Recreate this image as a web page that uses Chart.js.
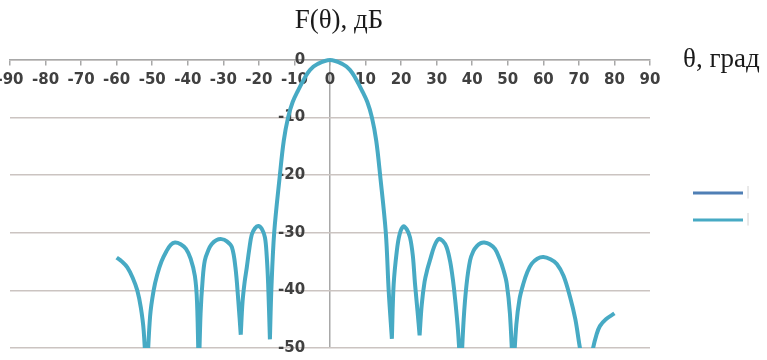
<!DOCTYPE html>
<html>
<head>
<meta charset="utf-8">
<title>F(θ), дБ</title>
<script src="https://cdn.jsdelivr.net/npm/chart.js@4"></script>
<style>
    body { margin: 0; background: #fff; }
    #wrap { width: 767px; height: 360px; position: relative; }
</style>
</head>
<body>
<div id="wrap"><canvas id="chartDiagrama"></canvas></div>
<script>
// угол, град
const angles = [
    -60, -58.5, -57, -55.5, -54.2, -53.2, -52.4, -51.6,
    -50.6, -49.6, -48.6, -47.4, -46.0, -44.8, -43.6, -42.0, -40.5, -39.2, -38.0, -37.4, -36.9,
    -36.4, -35.8, -35.2, -34.2, -33.3, -32.0, -30.5, -29.0, -27.6, -26.6, -25.8, -25.1,
    -24.6, -24.0, -23.4, -22.7, -22.0, -21.1, -20.2, -19.2, -18.3, -17.8, -17.4, -16.9,
    -16.5, -15.7, -14.1, -13.0, -11.8, -10.5, -9.0, -7.2, -5.6, -3.5, 0,
    3.5, 5.6, 7.2, 9.0, 10.5, 11.8, 13.0, 14.1, 15.7, 16.5, 17.4,
    17.9, 18.8, 19.6, 20.6, 21.6, 22.5, 23.3, 23.9, 24.6, 25.2,
    25.8, 26.6, 27.4, 28.1, 29.3, 30.5, 31.7, 32.8, 33.8, 34.6, 35.2, 36.0, 36.8,
    37.6, 38.4, 39.4, 40.3, 41.3, 42.4, 43.4, 44.9, 46.4, 47.7, 48.8, 49.7, 50.6, 51.5,
    52.4, 53.3, 54.4, 55.5, 56.7, 58.3, 60.0, 62.0, 63.8, 65.7, 67.5, 69.0, 70.3, 72.2,
    74.0, 74.9, 75.9, 77.6, 80
];
// уровень, дБ
const levels = [
    -34.3, -35, -36, -37.8, -40, -43, -47, -56,
    -44.5, -40, -37.3, -35, -33.2, -32.1, -31.7, -32, -32.8, -34.5, -37.5, -42, -55,
    -44, -38, -34.8, -33, -32, -31.3, -31.1, -31.5, -32.5, -36, -41.7, -47.7,
    -42, -38.5, -36, -32.8, -30.3, -29.2, -28.8, -29.3, -30.8, -34, -38.8, -48.5,
    -40, -30, -20, -14, -10, -7.3, -5.3, -3.2, -1.7, -0.7, 0,
    -0.7, -1.7, -3.2, -5.3, -7.3, -10, -14, -20, -30, -40, -48.4,
    -39, -33.1, -30.2, -28.9, -29.4, -30.8, -34, -38.8, -43.5, -47.8,
    -42.5, -38.5, -36.3, -34.8, -32.4, -31.1, -31.4, -32.5, -35, -38.3, -41.6, -47, -55,
    -45, -39, -34.8, -33.2, -32.3, -31.8, -31.7, -32, -32.8, -34.5, -36.5, -38.8, -44, -55,
    -46, -41.5, -38.8, -36.8, -35.4, -34.5, -34.2, -34.6, -35.4, -37.5, -41.1, -45, -50, -56,
    -50, -47.8, -46.2, -45, -44
];
const xTicks = [-90, -80, -70, -60, -50, -40, -30, -20, -10, 0, 10, 20, 30, 40, 50, 60, 70, 80, 90];
const yTicks = [0, -10, -20, -30, -40, -50];
const seriesNames = ['|', '|'];

const tickFont = { family: 'DejaVu Sans', size: 15, weight: 'bold' };

// каждый лепесток - свой сплайн, в нулях излом
function puntos() {
    const out = [];
    angles.forEach((a, i) => {
        const v = levels[i];
        out.push({ x: a, y: v });
        const esMin = i > 0 && i < angles.length - 1 && v < levels[i - 1] && v < levels[i + 1];
        if (esMin) {
            out.push({ x: a, y: null });
            out.push({ x: a, y: v });
        }
    });
    return out;
}

const textos = {
    id: 'textos',
    afterDraw(chart) {
        const ctx = chart.ctx;
        ctx.save();
        ctx.fillStyle = '#1a1a1a';
        ctx.font = '27px "Liberation Serif"';
        ctx.textBaseline = 'alphabetic';
        ctx.textAlign = 'center';
        ctx.fillText('F(θ), дБ', 339, 28);
        ctx.textAlign = 'left';
        ctx.fillText('θ, град', 683, 67);

        // легенда
        chart.data.datasets.forEach((ds, i) => {
            const y = 193 + i * 27;
            ctx.strokeStyle = ds.borderColor;
            ctx.lineWidth = 3;
            ctx.beginPath();
            ctx.moveTo(693, y);
            ctx.lineTo(743, y);
            ctx.stroke();
            ctx.fillStyle = '#d6d6d6';
            ctx.font = '12px "DejaVu Sans"';
            ctx.textBaseline = 'middle';
            ctx.fillText(ds.label, 746, y);
        });
        ctx.restore();
    }
};

new Chart(document.getElementById('chartDiagrama'), {
    type: 'line',
    data: {
        datasets: [
            {
                label: seriesNames[0],
                data: [],
                borderColor: '#4f7fb5',
                borderWidth: 3,
                pointRadius: 0
            },
            {
                label: seriesNames[1],
                data: puntos(),
                borderColor: '#47aac4',
                borderWidth: 4,
                pointRadius: 0,
                tension: 0.35,
                spanGaps: false,
                clip: { left: 10, top: 10, right: 10, bottom: 0 }
            }
        ]
    },
    options: {
        responsive: true,
        maintainAspectRatio: false,
        animation: false,
        layout: { padding: { left: 10, right: 117, top: 60, bottom: 8 } },
        plugins: { legend: { display: false }, tooltip: { enabled: false } },
        scales: {
            x: {
                type: 'linear',
                min: -90,
                max: 90,
                position: { y: 0 },
                afterBuildTicks: s => { s.ticks = xTicks.map(v => ({ value: v })); },
                afterFit: s => { s.paddingLeft = 0; s.paddingRight = 0; },
                ticks: { font: tickFont, color: '#404040', padding: 6, maxRotation: 0, autoSkip: false },
                grid: {
                    color: c => (c.tick && c.tick.value === 0) ? '#a8a8a8' : 'rgba(0,0,0,0)',
                    tickColor: '#a8a8a8',
                    tickLength: 5,
                    lineWidth: 1.5
                },
                border: { color: '#a8a8a8', width: 1.5 }
            },
            y: {
                type: 'linear',
                min: -50,
                max: 0,
                position: { x: -7 },
                afterBuildTicks: s => { s.ticks = yTicks.map(v => ({ value: v })); },
                ticks: { font: tickFont, color: '#404040' },
                grid: { color: '#cbc4c1', lineWidth: 1.5, drawTicks: false },
                border: { display: false }
            }
        }
    },
    plugins: [textos]
});
</script>
</body>
</html>
